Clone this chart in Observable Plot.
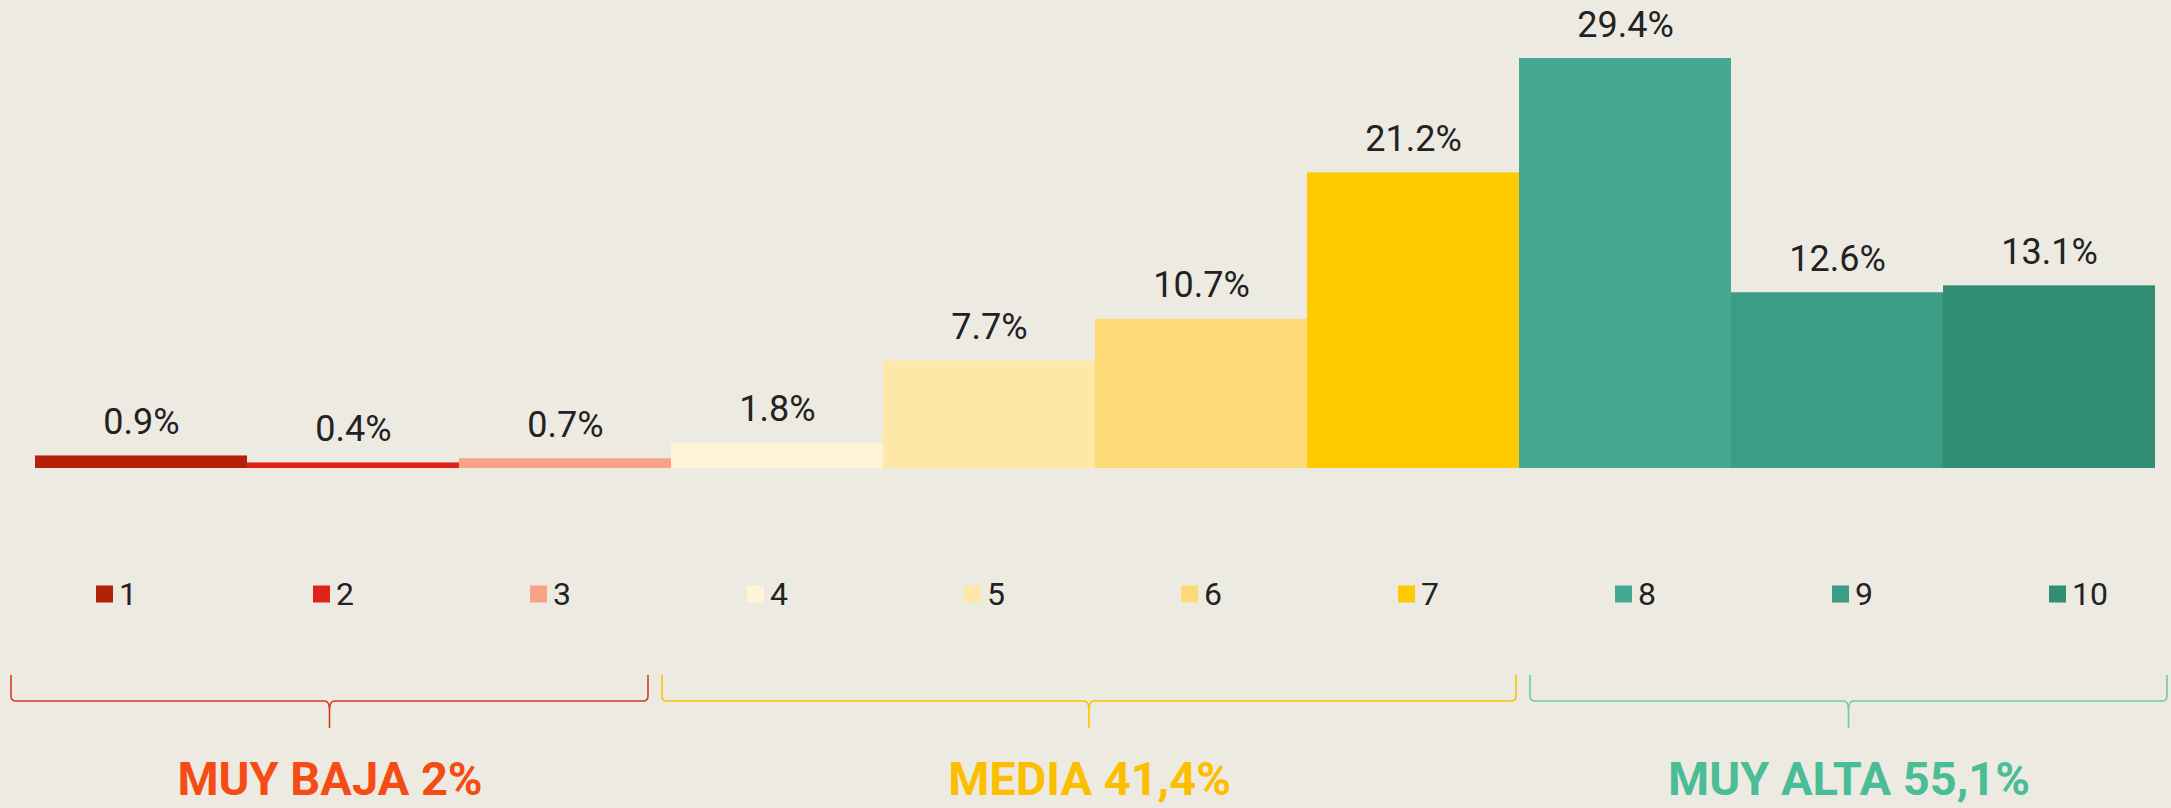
<!DOCTYPE html>
<html><head><meta charset="utf-8">
<script src="https://cdn.jsdelivr.net/npm/d3@7"></script>
<script src="https://cdn.jsdelivr.net/npm/@observablehq/plot@0.6"></script>
<style>
html,body{margin:0;padding:0;background:#EDEAE2;overflow:hidden;}
#chart{width:2171px;height:808px;overflow:hidden;}
#chart svg{display:block;max-width:none;}
</style></head><body><div id="chart"></div>
<script>
const categories = ["1","2","3","4","5","6","7","8","9","10"];
const values = [0.9, 0.4, 0.7, 1.8, 7.7, 10.7, 21.2, 29.4, 12.6, 13.1];
const barColors = ["#B32107","#E0231A","#F8A387","#FFF4D6","#FEE8A8","#FDDA78","#FFCA00","#44A990","#3C9D85","#318D74"];
const groupLabels = ["MUY BAJA 2%","MEDIA 41,4%","MUY ALTA 55,1%"];
const groupSizes = [3, 4, 3];
const groupTextColors = ["#F44C14","#FBBF00","#4ABD96"];
const groupBraceColors = ["#D93A22","#F7C600","#6FCBA9"];

const FONT = 'Roboto, "Liberation Sans", sans-serif';

const bars = categories.map((c, i) => ({cat: c, value: values[i]}));
const legend = categories.map((c, i) => ({cat: c, pos: i + 0.5}));
let acc = 0;
const groups = groupLabels.map((g, i) => {
  const start = acc; acc += groupSizes[i];
  return {label: g, start, end: acc, mid: (start + acc) / 2, text: groupTextColors[i], brace: groupBraceColors[i]};
});

const topChart = Plot.plot({
  width: 2171, height: 500, margin: 0,
  style: {background: "transparent", fontFamily: FONT, maxWidth: "none"},
  x: {type: "band", domain: categories, range: [32, 2158], padding: 0, axis: null},
  y: {domain: [0, 29.4], range: [468, 58], axis: null},
  color: {domain: categories, range: barColors},
  marks: [
    Plot.barY(bars, {x: "cat", y: "value", fill: "cat"}),
    Plot.text(bars, {x: "cat", y: "value", text: d => d.value.toFixed(1) + "%", lineAnchor: "bottom", dy: -22, fontSize: 36, fill: "#222"})
  ]
});

function braceMark(index, scales) {
  const g = d3.create("svg:g").attr("fill", "none").attr("stroke-width", 1.6);
  const yTop = 175, yLine = 201, yTip = 228;
  for (const gr of groups) {
    const x0 = scales.x(gr.start) + 7, x1 = scales.x(gr.end) - 7, xm = (x0 + x1) / 2;
    const p = d3.path();
    p.moveTo(x0, yTop);
    p.lineTo(x0, yLine - 5);
    p.quadraticCurveTo(x0, yLine, x0 + 5, yLine);
    p.lineTo(xm - 5, yLine);
    p.quadraticCurveTo(xm, yLine, xm, yLine + 9);
    p.lineTo(xm, yTip);
    p.moveTo(xm, yLine + 9);
    p.quadraticCurveTo(xm, yLine, xm + 5, yLine);
    p.lineTo(x1 - 5, yLine);
    p.quadraticCurveTo(x1, yLine, x1, yLine - 5);
    p.lineTo(x1, yTop);
    g.append("path").attr("d", p.toString()).attr("stroke", gr.brace);
  }
  return g.node();
}

const bottomChart = Plot.plot({
  width: 2171, height: 308, margin: 0,
  style: {background: "transparent", fontFamily: FONT, maxWidth: "none"},
  x: {domain: [0, 10], range: [4, 2174], axis: null},
  color: {domain: categories, range: barColors},
  marks: [
    Plot.dot(legend, {x: "pos", frameAnchor: "top", dy: 93.5, dx: -8.5, symbol: "square", r: 17 / Math.sqrt(Math.PI), fill: "cat", stroke: null}),
    Plot.text(legend, {x: "pos", text: "cat", frameAnchor: "top", dy: 94, dx: 6, textAnchor: "start", lineAnchor: "middle", fontSize: 32, fill: "#222"}),
    braceMark,
    ...groups.map(g => Plot.text([g], {x: "mid", text: "label", frameAnchor: "top", dy: 294, lineAnchor: "bottom", fontSize: 47, fontWeight: "bold", fill: g.text}))
  ]
});

document.getElementById("chart").append(topChart, bottomChart);
</script>
</body></html>
